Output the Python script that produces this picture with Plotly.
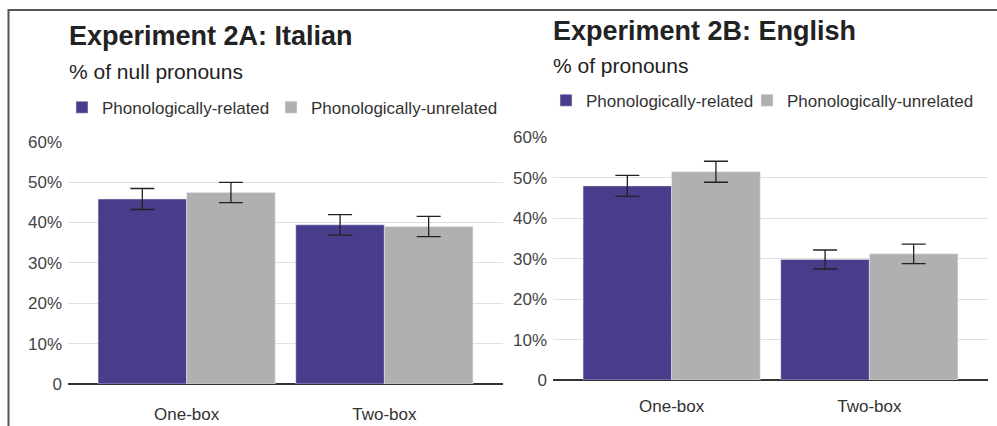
import plotly.graph_objects as go

categories = ["One-box", "Two-box"]
series_names = ["Phonologically-related", "Phonologically-unrelated"]

# Experiment 2A: Italian (% of null pronouns)
ita_related = [45.8, 39.4]
ita_related_err = [2.6, 2.55]
ita_unrelated = [47.4, 39.0]
ita_unrelated_err = [2.5, 2.5]

# Experiment 2B: English (% of pronouns)
eng_related = [48.0, 29.8]
eng_related_err = [2.6, 2.35]
eng_unrelated = [51.5, 31.2]
eng_unrelated_err = [2.6, 2.4]

y_tick_vals = [0, 10, 20, 30, 40, 50, 60]
y_tick_text = ["0", "10%", "20%", "30%", "40%", "50%", "60%"]

PURPLE = "#483D8B"
GRAY = "#B0B0B0"
FONT = "Liberation Sans, Arial, sans-serif"

W, H = 997, 440
# the viewer compresses the page vertically; map target screen y to figure y
SY_OFF, SY_SCALE = 8.3, 0.957

def px(x):
    return x / W

def py(y_screen):
    y_fig = (y_screen - SY_OFF) / SY_SCALE
    return 1 - y_fig / H

fig = go.Figure()

err_style = dict(type="data", color="#222222", thickness=1.3, width=12)

fig.add_trace(go.Bar(x=categories, y=ita_related, name=series_names[0], marker_color=PURPLE,
                     error_y=dict(array=ita_related_err, **err_style), xaxis="x", yaxis="y",
                     legend="legend", legendwidth=164))
fig.add_trace(go.Bar(x=categories, y=ita_unrelated, name=series_names[1], marker_color=GRAY,
                     error_y=dict(array=ita_unrelated_err, **err_style), xaxis="x", yaxis="y",
                     legend="legend"))
fig.add_trace(go.Bar(x=categories, y=eng_related, name=series_names[0], marker_color=PURPLE,
                     error_y=dict(array=eng_related_err, **err_style), xaxis="x2", yaxis="y2",
                     legend="legend2", legendwidth=156))
fig.add_trace(go.Bar(x=categories, y=eng_unrelated, name=series_names[1], marker_color=GRAY,
                     error_y=dict(array=eng_unrelated_err, **err_style), xaxis="x2", yaxis="y2",
                     legend="legend2"))

xcommon = dict(type="category", range=[-0.6, 1.6], showgrid=False, showline=False, zeroline=False,
               ticks="", tickfont=dict(family=FONT, size=17, color="#333333"))
ycommon = dict(range=[0, 60], tickvals=y_tick_vals, ticktext=y_tick_text, showgrid=True,
               gridcolor="#E0E0E0", gridwidth=1, zeroline=True, zerolinecolor="#333333",
               zerolinewidth=2, showline=False, ticks="", ticklabelstandoff=5,
               tickfont=dict(family=FONT, size=17, color="#444444"))

fig.update_layout(
    width=W, height=H,
    margin=dict(l=0, r=0, t=0, b=0),
    paper_bgcolor="white", plot_bgcolor="white",
    barmode="group", bargap=0.104, bargroupgap=0,
    xaxis=dict(domain=[px(68), px(503)], anchor="y", ticklabelstandoff=18, **xcommon),
    yaxis=dict(domain=[py(383.3), py(141)], anchor="x", **ycommon),
    xaxis2=dict(domain=[px(553), px(988)], anchor="y2", ticklabelstandoff=14, **xcommon),
    yaxis2=dict(domain=[py(379.4), py(136.7)], anchor="x2", **ycommon),
    legend=dict(orientation="h", x=px(62), xanchor="left", y=py(107), yanchor="middle",
                font=dict(family=FONT, size=17, color="#333333"), bgcolor="rgba(0,0,0,0)",
                itemclick=False, itemdoubleclick=False),
    legend2=dict(orientation="h", x=px(546), xanchor="left", y=py(100), yanchor="middle",
                 font=dict(family=FONT, size=17, color="#333333"), bgcolor="rgba(0,0,0,0)",
                 itemclick=False, itemdoubleclick=False),
    annotations=[
        dict(text="<b>Experiment 2A: Italian</b>", x=px(67), y=py(35), xref="paper", yref="paper",
             xanchor="left", yanchor="middle", showarrow=False,
             font=dict(family=FONT, size=27, color="#222222")),
        dict(text="% of null pronouns", x=px(67), y=py(71), xref="paper", yref="paper",
             xanchor="left", yanchor="middle", showarrow=False,
             font=dict(family=FONT, size=21, color="#222222")),
        dict(text="<b>Experiment 2B: English</b>", x=px(551), y=py(30), xref="paper", yref="paper",
             xanchor="left", yanchor="middle", showarrow=False,
             font=dict(family=FONT, size=27, color="#222222")),
        dict(text="% of pronouns", x=px(551), y=py(65), xref="paper", yref="paper",
             xanchor="left", yanchor="middle", showarrow=False,
             font=dict(family=FONT, size=21, color="#222222")),
    ],
    shapes=[
        dict(type="line", xref="paper", yref="paper", x0=px(8), x1=1, y0=1 - 1 / H, y1=1 - 1 / H,
             line=dict(color="#555555", width=2)),
        dict(type="line", xref="paper", yref="paper", x0=px(8.5), x1=px(8.5), y0=1, y1=0,
             line=dict(color="#555555", width=2)),
    ],
)

post = (
    "document.documentElement.style.margin='0';"
    "document.documentElement.style.overflow='hidden';"
    "document.body.style.margin='0';"
    "document.body.style.overflow='hidden';"
    "var d=document.getElementById('{plot_id}');"
    "d.style.position='fixed';d.style.top='0px';d.style.left='0px';"
)

fig.write_html("out.html", config={"displayModeBar": False}, post_script=post)
